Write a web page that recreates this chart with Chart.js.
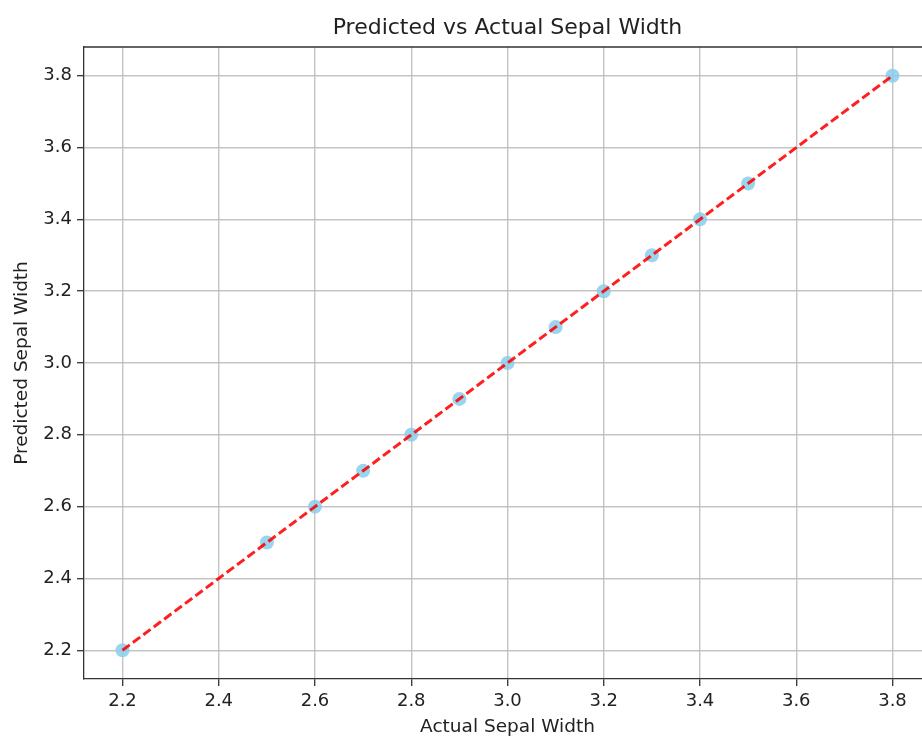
<!DOCTYPE html>
<html>
<head>
<meta charset="utf-8">
<script src="https://cdn.jsdelivr.net/npm/chart.js@4.4.1/dist/chart.umd.min.js"></script>
<style>
  html, body { margin: 0; padding: 0; background: #fff; }
  #wrap { width: 922px; height: 738px; overflow: hidden; }
</style>
</head>
<body>
<div id="wrap">
  <canvas id="sepalChart" width="940" height="738"></canvas>
</div>
<script>
// actual vs predicted sepal width (test set)
const actualWidth = [2.2, 2.5, 2.6, 2.7, 2.8, 2.9, 3.0, 3.1, 3.2, 3.3, 3.4, 3.5, 3.8];
const predictedWidth = [2.2, 2.5, 2.6, 2.7, 2.8, 2.9, 3.0, 3.1, 3.2, 3.3, 3.4, 3.5, 3.8];

// ideal line y = x, from min to max of the actual values
const idealX = [2.2, 3.8];
const idealY = [2.2, 3.8];

const tickValues = [2.2, 2.4, 2.6, 2.8, 3.0, 3.2, 3.4, 3.6, 3.8];

const axisMin = 2.12;
const axisMax = 3.88;

const fontFamily = "'DejaVu Sans', sans-serif";

// matplotlib style frame on top of the plot
const topSpine = {
    id: 'topSpine',
    afterDatasetsDraw(chart) {
        const { ctx, chartArea } = chart;
        ctx.save();
        ctx.strokeStyle = '#333';
        ctx.lineWidth = 1.3;
        ctx.beginPath();
        ctx.moveTo(chartArea.left, chartArea.top);
        ctx.lineTo(chartArea.right, chartArea.top);
        ctx.lineTo(chartArea.right, chartArea.bottom);
        ctx.stroke();
        ctx.restore();
    }
};

function axisOptions(size, titleText, isY) {
    return {
        type: 'linear',
        min: axisMin,
        max: axisMax,
        afterBuildTicks: scale => {
            scale.ticks = tickValues.map(v => ({ value: v }));
        },
        afterFit: scale => {
            if (isY) scale.width = size;
            else scale.height = size;
        },
        ticks: {
            color: '#222',
            font: { family: fontFamily, size: 18 },
            padding: 5,
            maxRotation: 0,
            autoSkip: false,
            callback: v => Number(v).toFixed(1)
        },
        grid: {
            color: 'rgba(190,190,190,0.9)',
            lineWidth: 1.4,
            tickColor: '#333',
            tickLength: 7,
            tickWidth: 1.3
        },
        border: { color: '#333', width: 1.3 },
        title: {
            display: true,
            text: titleText,
            color: '#222',
            font: { family: fontFamily, size: 18.5 },
            padding: isY ? { top: 11, bottom: 0 } : { top: 0, bottom: 0 }
        }
    };
}

const ctx = document.getElementById('sepalChart').getContext('2d');
new Chart(ctx, {
    type: 'scatter',
    data: {
        datasets: [
            {
                type: 'line',
                label: 'Ideal',
                data: idealX.map((x, i) => ({ x: x, y: idealY[i] })),
                borderColor: 'rgba(255,0,0,0.88)',
                borderWidth: 3,
                borderDash: [9, 4],
                pointRadius: 0,
                fill: false,
                order: 0
            },
            {
                label: 'Predictions',
                data: actualWidth.map((x, i) => ({ x: x, y: predictedWidth[i] })),
                backgroundColor: 'rgba(135,206,235,0.85)',
                borderWidth: 0,
                pointRadius: 7,
                order: 1
            }
        ]
    },
    options: {
        responsive: false,
        animation: false,
        devicePixelRatio: 1,
        layout: { padding: { left: 0, right: 9, top: 0, bottom: 0 } },
        plugins: {
            legend: { display: false },
            tooltip: { enabled: false },
            title: {
                display: true,
                fullSize: false,
                text: 'Predicted vs Actual Sepal Width',
                color: '#222',
                font: { family: fontFamily, size: 22, weight: 'normal' },
                padding: { top: 15, bottom: 5.6 }
            }
        },
        scales: {
            x: axisOptions(59, 'Actual Sepal Width', false),
            y: axisOptions(84, 'Predicted Sepal Width', true)
        }
    },
    plugins: [topSpine]
});
</script>
</body>
</html>
